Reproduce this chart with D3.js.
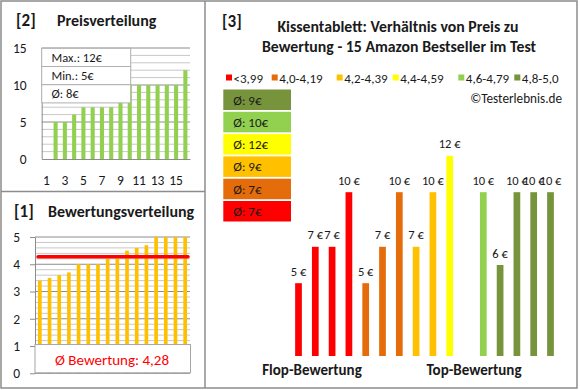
<!DOCTYPE html>
<html>
<head>
<meta charset="utf-8">
<script src="https://cdn.jsdelivr.net/npm/d3@7"></script>
<style>
  body { margin: 0; background: #fff; }
  svg { font-family: Calibri, Carlito, Lato, sans-serif; }
</style>
</head>
<body>
<div id="chartDiv"></div>
<script>
var width = 580,
    height = 390;

// 16 products, sorted by rating (one has no price)
var slots = d3.range(1, 17);
var ratings = [3.4, 3.5, 3.6, 3.7, 4.0, 4.0, 4.0, 4.2, 4.2, 4.5, 4.6, 4.7, 5.0, 5.0, 5.0, 5.0];
var prices = [5, 7, 7, 10, 5, 7, 10, 7, 10, 12, null, 10, 6, 10, 10, 10];
// prices sorted ascending for panel [2]
var pricesSorted = [null, 5, 5, 6, 7, 7, 7, 7, 10, 10, 10, 10, 10, 10, 10, 12];

var classLabels = ["<3,99", "4,0-4,19", "4,2-4,39", "4,4-4,59", "4,6-4,79", "4,8-5,0"];
var classColors = ["#ff0000", "#e46c0a", "#ffc000", "#ffff00", "#92d050", "#77933c"];
var classBreaks = [4.0, 4.2, 4.4, 4.6, 4.8];

var priceTicks = [0, 5, 10, 15];
var slotTicks = [1, 3, 5, 7, 9, 11, 13, 15];
var ratingTicks = [0, 1, 2, 3, 4, 5];

var textColor = "#1a1a1a";
var frameColor = "#8c8c8c";

var svg = d3.select("#chartDiv")
    .append("svg")
    .attr("width", width)
    .attr("height", height);

// frames
svg.append("rect")
    .attr("x", 1).attr("y", 1)
    .attr("width", 576).attr("height", 387)
    .attr("fill", "none").attr("stroke", frameColor).attr("stroke-width", 1.5);
svg.append("line")
    .attr("x1", 205).attr("x2", 205).attr("y1", 1).attr("y2", 388)
    .attr("stroke", frameColor).attr("stroke-width", 1.5);
svg.append("line")
    .attr("x1", 1).attr("x2", 205).attr("y1", 191.5).attr("y2", 191.5)
    .attr("stroke", frameColor).attr("stroke-width", 1.5);

function title(x, y, num, label, labelX) {
    svg.append("text").attr("x", x).attr("y", y)
        .attr("font-size", 17).attr("font-weight", "bold").attr("fill", textColor)
        .text(num);
    if (label) {
        svg.append("text").attr("x", labelX).attr("y", y)
            .attr("font-size", 16).attr("font-weight", "bold").attr("fill", textColor)
            .text(label);
    }
}

// ---------- [2] Preisverteilung ----------
title(16, 26, "[2]", "Preisverteilung", 57);

var x2 = d3.scaleBand().domain(slots).range([41.7, 190])
    .paddingInner(0.56).paddingOuter(0.28);
var y2 = d3.scaleLinear().domain([0, 15]).range([159, 48]);

var g2 = svg.append("g");
g2.selectAll("line.grid")
    .data(d3.range(1, 16))
    .enter().append("line")
    .attr("x1", 41.7).attr("x2", 190)
    .attr("y1", function (d) { return y2(d); })
    .attr("y2", function (d) { return y2(d); })
    .attr("stroke", function (d) { return d % 5 === 0 ? "#8c8c8c" : "#c8c8c8"; })
    .attr("stroke-width", 1);

g2.selectAll("rect.bar")
    .data(slots.filter(function (s, i) { return pricesSorted[i] != null; }))
    .enter().append("rect")
    .attr("x", function (d) { return x2(d); })
    .attr("width", x2.bandwidth())
    .attr("y", function (d) { return y2(pricesSorted[d - 1]); })
    .attr("height", function (d) { return y2(0) - y2(pricesSorted[d - 1]); })
    .attr("fill", "#92d050");

g2.append("g")
    .attr("transform", "translate(41.7,0)")
    .call(d3.axisLeft(y2).tickValues(priceTicks).tickSize(0).tickPadding(15))
    .call(function (g) { g.select(".domain").attr("stroke", "#8c8c8c"); });
g2.append("g")
    .attr("transform", "translate(0,159)")
    .call(d3.axisBottom(x2).tickValues(slotTicks).tickSize(0).tickPadding(16))
    .call(function (g) { g.select(".domain").attr("stroke", "#8c8c8c"); });

var known = pricesSorted.filter(function (d) { return d != null; });
var infoRows = [
    "Max.: " + d3.max(known) + "€",
    "Min.: " + d3.min(known) + "€",
    "Ø: " + Math.round(d3.mean(known)) + "€"
];
var info = g2.append("g");
info.selectAll("rect")
    .data(infoRows)
    .enter().append("rect")
    .attr("x", 41.7).attr("width", 89)
    .attr("y", function (d, i) { return 48.3 + i * 18.2; })
    .attr("height", 18.2)
    .attr("fill", "#fff").attr("stroke", "#b0b0b0");
info.selectAll("text")
    .data(infoRows)
    .enter().append("text")
    .attr("x", 51.5)
    .attr("y", function (d, i) { return 62 + i * 18.2; })
    .attr("font-size", 12.5).attr("fill", textColor)
    .text(function (d) { return d; });

// ---------- [1] Bewertungsverteilung ----------
title(14, 217, "[1]", "Bewertungsverteilung", 48);

var x1 = d3.scaleBand().domain(slots).range([35, 190])
    .paddingInner(0.62).paddingOuter(0.31);
var y1 = d3.scaleLinear().domain([0, 5]).range([373.3, 237]);

var g1 = svg.append("g");
g1.selectAll("line.grid")
    .data(d3.range(1, 26).map(function (d) { return d / 5; }))
    .enter().append("line")
    .attr("x1", 35).attr("x2", 190)
    .attr("y1", function (d) { return y1(d); })
    .attr("y2", function (d) { return y1(d); })
    .attr("stroke", function (d, i) { return (i + 1) % 5 === 0 ? "#8c8c8c" : "#c8c8c8"; })
    .attr("stroke-width", 1);

g1.selectAll("rect.bar")
    .data(slots)
    .enter().append("rect")
    .attr("x", function (d) { return x1(d); })
    .attr("width", x1.bandwidth())
    .attr("y", function (d) { return y1(ratings[d - 1]); })
    .attr("height", function (d) { return y1(0) - y1(ratings[d - 1]); })
    .attr("fill", "#ffc000");

g1.append("g")
    .attr("transform", "translate(35,0)")
    .call(d3.axisLeft(y1).tickValues(ratingTicks).tickFormat(d3.format("d"))
        .tickSize(5).tickPadding(10).tickSizeOuter(0))
    .call(function (g) {
        g.select(".domain").attr("stroke", "#8c8c8c");
        g.selectAll(".tick line").attr("stroke", "#8c8c8c");
    });
g1.append("line")
    .attr("x1", 35).attr("x2", 190).attr("y1", y1(0)).attr("y2", y1(0))
    .attr("stroke", "#8c8c8c");

var meanRating = Math.round((d3.mean(ratings) + 1e-9) * 100) / 100;
g1.append("line")
    .attr("x1", x1(1)).attr("x2", x1(16) + x1.bandwidth() + 1)
    .attr("y1", y1(meanRating)).attr("y2", y1(meanRating))
    .attr("stroke", "#ff0000").attr("stroke-width", 3.5)
    .attr("stroke-linecap", "round");

g1.append("rect")
    .attr("x", 35).attr("y", y1(1) - 1.5)
    .attr("width", 155.5).attr("height", y1(0) - y1(1) + 1)
    .attr("fill", "#fff").attr("stroke", "#a6a6a6");
g1.append("text")
    .attr("x", 112).attr("y", 365)
    .attr("text-anchor", "middle")
    .attr("font-size", 15).attr("fill", "#ff0000")
    .text("Ø Bewertung: " + meanRating.toFixed(2).replace(".", ","));

// ---------- [3] Preis zu Bewertung ----------
title(222, 27, "[3]");
svg.append("text")
    .attr("x", 398).attr("y", 32)
    .attr("text-anchor", "middle").attr("font-size", 15.8).attr("font-weight", "bold").attr("fill", textColor)
    .text("Kissentablett: Verhältnis von Preis zu");
svg.append("text")
    .attr("x", 399).attr("y", 52)
    .attr("text-anchor", "middle").attr("font-size", 15.8).attr("font-weight", "bold").attr("fill", textColor)
    .text("Bewertung - 15 Amazon Bestseller im Test");

var color = d3.scaleThreshold().domain(classBreaks).range(classColors);

// legend
var legendX = [226, 271.7, 336.7, 392.7, 458.3, 514.3];
var legend = svg.append("g").selectAll("g")
    .data(classLabels)
    .enter().append("g")
    .attr("transform", function (d, i) { return "translate(" + legendX[i] + ",78)"; });
legend.append("rect")
    .attr("x", 0).attr("y", -3.5).attr("width", 6).attr("height", 6)
    .attr("fill", function (d, i) { return classColors[i]; });
legend.append("text")
    .attr("x", 7.5).attr("y", 4.5)
    .attr("font-size", 13).attr("fill", textColor)
    .text(function (d) { return d; });

svg.append("text")
    .attr("x", 562).attr("y", 103)
    .attr("text-anchor", "end").attr("font-size", 13.2).attr("fill", textColor)
    .text("©Testerlebnis.de");

// average price per rating class, best class on top
var classAvg = classColors.map(function (c, i) {
    var vals = prices.filter(function (p, j) { return p != null && color(ratings[j]) === c; });
    return { color: c, avg: Math.round(d3.mean(vals)) };
}).reverse();

var avgBox = svg.append("g").selectAll("g")
    .data(classAvg)
    .enter().append("g")
    .attr("transform", function (d, i) { return "translate(223.3," + (89.5 + i * 22.3) + ")"; });
avgBox.append("rect")
    .attr("width", 67.7).attr("height", 20.5)
    .attr("fill", function (d) { return d.color; });
avgBox.append("text")
    .attr("x", 10).attr("y", 15)
    .attr("font-size", 13).attr("fill", textColor)
    .text(function (d) { return "Ø: " + d.avg + "€"; });

var x3 = d3.scaleBand().domain(slots).range([290.1, 558.9])
    .paddingInner(0.6).paddingOuter(0.3);
var y3 = d3.scaleLinear().domain([1, 12]).range([356, 155.8]);

var g3 = svg.append("g");
var withPrice = slots.filter(function (s) { return prices[s - 1] != null; });
g3.selectAll("rect")
    .data(withPrice)
    .enter().append("rect")
    .attr("x", function (d) { return x3(d); })
    .attr("width", x3.bandwidth())
    .attr("y", function (d) { return y3(prices[d - 1]); })
    .attr("height", function (d) { return y3(1) - y3(prices[d - 1]); })
    .attr("fill", function (d) { return color(ratings[d - 1]); });
g3.selectAll("text")
    .data(withPrice)
    .enter().append("text")
    .attr("x", function (d) { return x3(d) + x3.bandwidth() / 2; })
    .attr("y", function (d) { return y3(prices[d - 1]) - 7.5; })
    .attr("text-anchor", "middle")
    .attr("font-size", 12.5).attr("fill", textColor)
    .text(function (d) { return prices[d - 1] + " €"; });

svg.append("text")
    .attr("x", 312).attr("y", 375)
    .attr("text-anchor", "middle").attr("font-size", 15).attr("font-weight", "bold").attr("fill", textColor)
    .text("Flop-Bewertung");
svg.append("text")
    .attr("x", 474).attr("y", 375)
    .attr("text-anchor", "middle").attr("font-size", 15).attr("font-weight", "bold").attr("fill", textColor)
    .text("Top-Bewertung");

svg.selectAll(".tick text").attr("font-size", 13.5).attr("fill", textColor)
    .attr("font-family", "Calibri, Carlito, Lato, sans-serif");
</script>
</body>
</html>
